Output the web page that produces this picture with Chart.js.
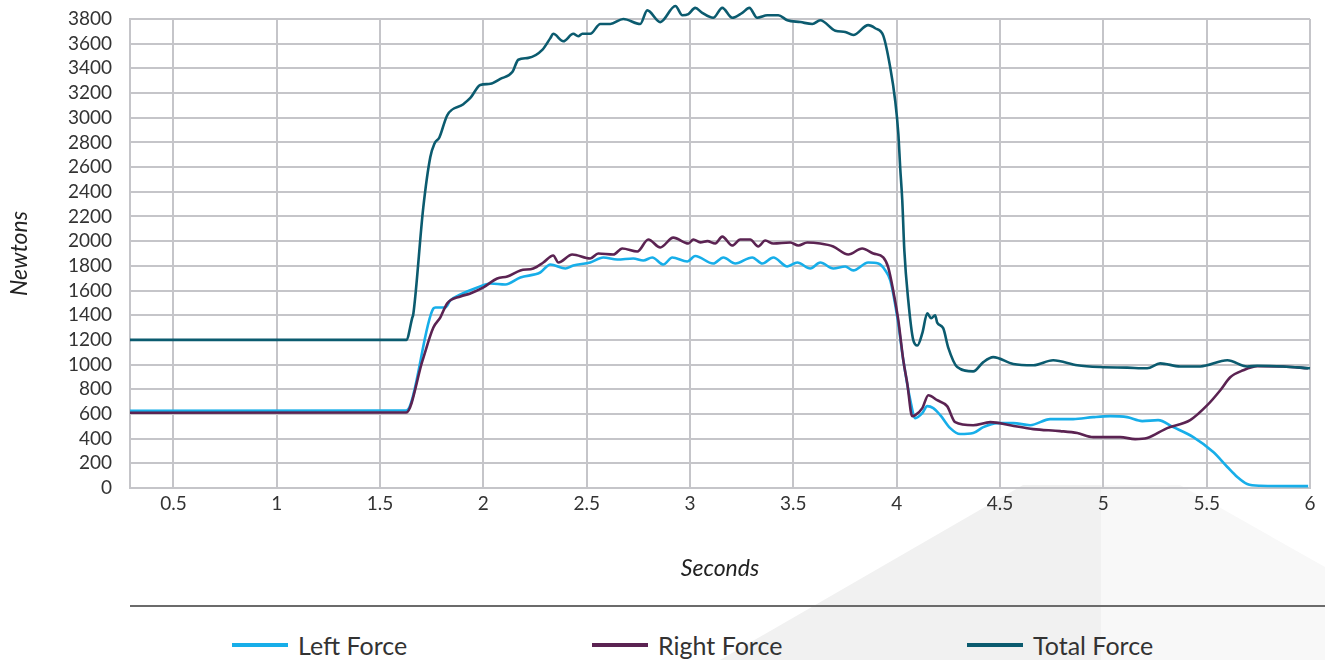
<!DOCTYPE html>
<html>
<head>
<meta charset="utf-8">
<script src="https://cdn.jsdelivr.net/npm/chart.js@4"></script>
<style>
    html, body { margin: 0; padding: 0; background: #fff; }
    body { width: 1325px; height: 660px; position: relative; overflow: hidden; font-family: 'Lato', sans-serif; }
    .shade { position: absolute; left: 0; top: 0; width: 1325px; height: 660px; }
    .shade-a { background: #f1f1f1; clip-path: polygon(720px 660px, 1023px 485px, 1101px 485px, 1101px 660px); }
    .shade-b { background: #f8f8f8; clip-path: polygon(1101px 485px, 1180px 485px, 1325px 567px, 1325px 660px, 1101px 660px); }
    .chart-box { position: absolute; left: 0; top: 0; width: 1325px; height: 600px; }
    .rule { position: absolute; left: 130px; top: 605px; width: 1195px; height: 2px; background: #6b6b6b; }
    .legend-item { position: absolute; top: 630px; height: 30px; display: flex; align-items: center; color: #333; font-size: 25px; }
    .legend-item i { display: inline-block; width: 56px; height: 4px; margin-right: 10px; }
</style>
</head>
<body>
<div class="shade shade-a"></div>
<div class="shade shade-b"></div>
<div class="chart-box"><canvas id="chart-force"></canvas></div>
<div class="rule"></div>
<div id="legend"></div>

<script>
/* ---- data (seconds / newtons) ---- */
const xTicks = [0.5, 1, 1.5, 2, 2.5, 3, 3.5, 4, 4.5, 5, 5.5, 6];

const leftTime = [0.29, 1.627, 1.758, 1.768, 1.816, 1.84, 1.889, 1.971, 2.034, 2.106, 2.179, 2.275, 2.324, 2.397, 2.435,
    2.517, 2.58, 2.648, 2.725, 2.774, 2.817, 2.871, 2.914, 2.987, 3.025, 3.112, 3.161, 3.219, 3.301, 3.35, 3.403,
    3.471, 3.519, 3.582, 3.63, 3.693, 3.751, 3.79, 3.862, 3.911, 3.945, 3.969, 4.003, 4.032, 4.066, 4.09, 4.124,
    4.148, 4.177, 4.211, 4.259, 4.307, 4.37, 4.419, 4.486, 4.564, 4.646, 4.743, 4.854, 4.951, 5.033, 5.115, 5.188,
    5.265, 5.338, 5.435, 5.532, 5.6, 5.648, 5.696, 5.759, 5.991];
const leftForce = [625, 628, 1455, 1463, 1463, 1520, 1568, 1625, 1657, 1649, 1706, 1746, 1811, 1779, 1803,
    1827, 1868, 1851, 1860, 1843, 1868, 1811, 1868, 1835, 1880, 1819, 1868, 1819, 1868, 1819, 1868,
    1795, 1827, 1779, 1827, 1779, 1795, 1763, 1827, 1819, 1763, 1682, 1383, 1035, 711, 566, 606,
    663, 647, 590, 485, 437, 445, 493, 526, 526, 509, 558, 558, 574, 582, 574, 542,
    550, 493, 412, 291, 170, 89, 32, 18, 15];

const rightTime = [0.29, 1.627, 1.705, 1.758, 1.792, 1.825, 1.889, 1.937, 2.0, 2.067, 2.116, 2.179, 2.242, 2.29, 2.338,
    2.363, 2.43, 2.517, 2.556, 2.629, 2.672, 2.745, 2.798, 2.856, 2.919, 2.992, 3.016, 3.05, 3.084, 3.122, 3.156,
    3.204, 3.243, 3.291, 3.33, 3.364, 3.403, 3.485, 3.524, 3.567, 3.63, 3.693, 3.766, 3.833, 3.887, 3.935, 3.959,
    3.983, 4.008, 4.032, 4.051, 4.075, 4.09, 4.124, 4.153, 4.196, 4.244, 4.283, 4.37, 4.453, 4.549, 4.661, 4.791,
    4.874, 4.951, 5.082, 5.154, 5.212, 5.309, 5.42, 5.503, 5.566, 5.614, 5.677, 5.745, 5.87, 5.991];
const rightForce = [610, 612, 1030, 1300, 1383, 1496, 1552, 1576, 1625, 1698, 1714, 1763, 1779, 1827, 1884,
    1827, 1892, 1860, 1900, 1892, 1940, 1916, 2013, 1949, 2029, 1981, 2013, 1990, 2000, 1981, 2037,
    1965, 2013, 2013, 1957, 2005, 1981, 1989, 1965, 1989, 1981, 1957, 1892, 1940, 1900, 1868, 1787,
    1601, 1358, 1035, 849, 582, 590, 647, 752, 711, 663, 534, 509, 534, 509, 477, 461,
    445, 412, 412, 396, 405, 485, 550, 671, 792, 897, 954, 986, 984, 970];

const totalTime = [0.29, 1.627, 1.656, 1.661, 1.709, 1.743, 1.763, 1.787, 1.825, 1.903, 1.937, 1.985, 2.034, 2.082, 2.14,
    2.169, 2.218, 2.285, 2.324, 2.338, 2.387, 2.435, 2.459, 2.479, 2.517, 2.566, 2.614, 2.677, 2.759, 2.793, 2.856,
    2.929, 2.963, 2.992, 3.025, 3.059, 3.112, 3.156, 3.204, 3.253, 3.287, 3.325, 3.374, 3.427, 3.471, 3.534, 3.592,
    3.63, 3.703, 3.751, 3.79, 3.862, 3.896, 3.935, 3.969, 3.993, 4.008, 4.017, 4.027, 4.037, 4.056, 4.08, 4.1,
    4.124, 4.148, 4.167, 4.186, 4.196, 4.225, 4.249, 4.293, 4.37, 4.419, 4.467, 4.564, 4.661, 4.757, 4.874, 4.985,
    5.115, 5.212, 5.275, 5.372, 5.469, 5.6, 5.696, 5.745, 5.87, 6.0];
const totalForce = [1200, 1200, 1380, 1410, 2270, 2680, 2790, 2840, 3020, 3110, 3160, 3265, 3275, 3315, 3370,
    3470, 3485, 3550, 3645, 3680, 3620, 3680, 3660, 3680, 3680, 3760, 3760, 3800, 3760, 3870, 3775,
    3905, 3830, 3840, 3890, 3850, 3810, 3890, 3810, 3850, 3890, 3810, 3830, 3830, 3790, 3775, 3760,
    3790, 3705, 3695, 3670, 3750, 3725, 3665, 3405, 3135, 2870, 2595, 2330, 1925, 1520, 1200, 1155,
    1255, 1415, 1375, 1400, 1340, 1295, 1140, 980, 945, 1020, 1060, 1005, 995, 1035, 995, 980,
    975, 970, 1010, 985, 985, 1035, 985, 990, 985, 970];

const seriesNames = ['Left Force', 'Right Force', 'Total Force'];
const seriesColors = ['#17aee9', '#5b2352', '#0b5b6f'];
const legendX = [232, 592, 967];

/* ---- chart ---- */
const FONT = "'Lato', sans-serif";
const GRID = '#c5c5c9';

function toPoints(xs, ys) {
    return xs.map((x, i) => ({ x: x, y: ys[i] }));
}

function makeSet(i, xs, ys, order) {
    return {
        label: seriesNames[i],
        data: toPoints(xs, ys),
        borderColor: seriesColors[i],
        backgroundColor: seriesColors[i],
        borderWidth: 2.6,
        pointRadius: 0,
        cubicInterpolationMode: 'monotone',
        clip: false,
        order: order,
    };
}

const ctx = document.getElementById('chart-force');
new Chart(ctx, {
    type: 'line',
    data: {
        datasets: [
            makeSet(0, leftTime, leftForce, 2),
            makeSet(1, rightTime, rightForce, 1),
            makeSet(2, totalTime, totalForce, 0),
        ],
    },
    options: {
        responsive: true,
        maintainAspectRatio: false,
        animation: false,
        layout: { padding: { top: 19, right: 15, left: 0, bottom: 0 } },
        plugins: {
            legend: { display: false },
            tooltip: { enabled: false },
        },
        scales: {
            x: {
                type: 'linear',
                min: 0.29,
                max: 6,
                afterBuildTicks: (scale) => {
                    scale.ticks = xTicks.map(v => ({ value: v }));
                },
                afterFit: (scale) => { scale.height = 112; },
                ticks: {
                    color: '#333',
                    font: { family: FONT, size: 19 },
                    padding: 4,
                    maxRotation: 0,
                    autoSkip: false,
                    callback: (v) => String(v),
                },
                grid: { color: GRID, lineWidth: 2, drawTicks: false },
                border: { color: GRID, width: 2 },
                title: {
                    display: true,
                    text: 'Seconds',
                    color: '#222',
                    font: { family: FONT, size: 23, style: 'italic' },
                    padding: { top: 0, bottom: 18 },
                },
            },
            y: {
                min: 0,
                max: 3800,
                afterFit: (scale) => {
                    scale.width = 130;
                    scale.paddingTop = 0;
                    scale.paddingBottom = 0;
                },
                ticks: {
                    stepSize: 200,
                    color: '#333',
                    font: { family: FONT, size: 19 },
                    padding: 18,
                    autoSkip: false,
                    callback: (v) => String(v),
                },
                grid: { color: GRID, lineWidth: 2, drawTicks: false },
                border: { color: GRID, width: 2 },
                title: {
                    display: true,
                    text: 'Newtons',
                    color: '#222',
                    font: { family: FONT, size: 23, style: 'italic' },
                    padding: { top: 6, bottom: 0 },
                },
            },
        },
    },
});

/* ---- legend ---- */
const legendEl = document.getElementById('legend');
seriesNames.forEach((name, i) => {
    const item = document.createElement('div');
    item.className = 'legend-item';
    item.style.left = legendX[i] + 'px';
    item.innerHTML = '<i style="background:' + seriesColors[i] + '"></i>' + name;
    legendEl.appendChild(item);
});
</script>
</body>
</html>
